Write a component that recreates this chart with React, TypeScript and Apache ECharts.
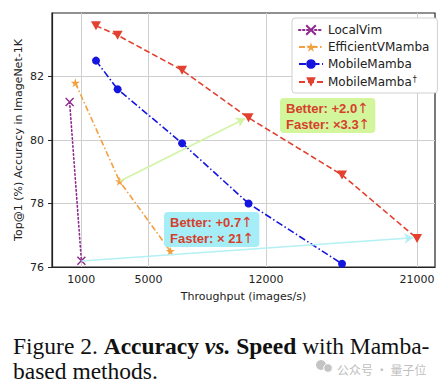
import React, { useEffect, useRef } from "react";
import * as echarts from "echarts";

const seriesNames = ["LocalVim", "EfficientVMamba", "MobileMamba", "MobileMamba†"];
const localVim: [number, number][] = [[300, 81.2], [1000, 76.2]];
const efficientVMamba: [number, number][] = [[640, 81.8], [3280, 78.7], [6300, 76.5]];
const mobileMamba: [number, number][] = [[1870, 82.5], [3160, 81.6], [7000, 79.9], [10960, 78.0], [16530, 76.1]];
const mobileMambaDagger: [number, number][] = [[1870, 83.6], [3160, 83.3], [7000, 82.2], [10960, 80.7], [16530, 78.9], [21000, 76.9]];
const xTicks = [1000, 5000, 12000, 21000];
const yTicks = [76, 78, 80, 82];
const greenArrow: [number, number][] = [[3280, 78.7], [10760, 80.68]];
const cyanArrow: [number, number][] = [[1000, 76.19], [20780, 76.92]];
const greenNote = [["Better: +2.0"], ["Faster: ×3.3"]];
const cyanNote = [["Better: +0.7"], ["Faster: × 21"]];

const C_PURPLE = "#8d2a8d";
const C_ORANGE = "#f2a040";
const C_BLUE = "#1515e0";
const C_RED = "#e3402f";
const NOTE_RED = "#d5402c";
const SANS = "'DejaVu Sans', sans-serif";
const SERIF = "'Liberation Serif', 'Times New Roman', serif";

const STAR = "path://M50,0L61.8,35.4L100,35.4L69.1,57.3L80.9,92.7L50,70.8L19.1,92.7L30.9,57.3L0,35.4L38.2,35.4Z";
const XMARK = "path://M0,0L10,10M10,0L0,10";
const TRI_DOWN = "path://M0,0L10,0L5,9Z";

const noteRich = {
  t: { fontFamily: "'Liberation Sans', Arial, sans-serif", fontWeight: "bold", fontSize: 13, lineHeight: 16, fill: NOTE_RED },
  a: { fontFamily: SANS, fontWeight: "normal", fontSize: 14, lineHeight: 16, fill: NOTE_RED },
};
const noteText = (lines: string[][]) => lines.map((l) => `{t|${l[0]}}{a|↑}`).join("\n");

const CAP = 23.5;
const CAP_LH = 20;

export default function App() {
  const ref = useRef<HTMLDivElement>(null);
  useEffect(() => {
    if (!ref.current) return;
    const chart = echarts.init(ref.current, undefined, { renderer: "svg" });
    const option: any = {
      animation: false,
      backgroundColor: "#ffffff",
      grid: { left: 52, right: 11, top: 13, bottom: 117, containLabel: false },
      xAxis: {
        type: "value",
        min: -750,
        max: 22070,
        name: "Throughput (images/s)",
        nameLocation: "middle",
        nameGap: 24,
        nameTextStyle: { fontFamily: SANS, fontSize: 11, color: "#222" },
        axisLine: { show: true, onZero: false, lineStyle: { color: "#222", width: 1.2 } },
        axisTick: { show: false, customValues: xTicks },
        axisLabel: {
          customValues: xTicks,
          formatter: (v: number) => String(v),
          fontFamily: SANS,
          fontSize: 11,
          color: "#222",
          margin: 7,
        },
        splitLine: { show: true, lineStyle: { color: "#cfcfcf", width: 1 } },
      },
      yAxis: {
        type: "value",
        min: 76,
        max: 84,
        axisLine: { show: true, onZero: false, lineStyle: { color: "#222", width: 1.2 } },
        axisTick: { show: true, customValues: yTicks, length: 4, lineStyle: { color: "#222" } },
        axisLabel: { customValues: yTicks, formatter: (v: number) => String(v), fontFamily: SANS, fontSize: 11, color: "#222", margin: 8 },
        splitLine: { show: true, lineStyle: { color: "#cfcfcf", width: 1 } },
      },
      legend: {
        orient: "vertical",
        left: 292,
        top: 18,
        padding: [6, 8, 5, 6],
        itemGap: 5,
        itemWidth: 24,
        itemHeight: 12,
        backgroundColor: "#ffffff",
        borderColor: "#d0d0d0",
        borderWidth: 1,
        borderRadius: 3,
        textStyle: {
          fontFamily: SANS,
          fontSize: 12,
          color: "#222",
          rich: { s: { fontSize: 8, verticalAlign: "top", padding: [0, 0, 6, 1], fontFamily: SANS, color: "#222" } },
        },
        formatter: (n: string) => (n === "MobileMamba†" ? "MobileMamba{s|†}" : n),
        data: seriesNames,
      },
      series: [
        {
          name: seriesNames[0],
          type: "line",
          data: localVim,
          symbol: XMARK,
          symbolSize: 8,
          lineStyle: { color: C_PURPLE, width: 1.6, type: [1.5, 2.5], cap: "round" },
          itemStyle: { color: "rgba(0,0,0,0)", borderColor: C_PURPLE, borderWidth: 1.4 },
          z: 3,
          markLine: {
            silent: true,
            symbol: ["none", "arrow"],
            symbolSize: [8, 9],
            label: { show: false },
            lineStyle: { color: "#b4f0f4", width: 1.6, type: "solid" },
            data: [[{ coord: cyanArrow[0] }, { coord: cyanArrow[1] }]],
          },
        },
        {
          name: seriesNames[1],
          type: "line",
          data: efficientVMamba,
          symbol: STAR,
          symbolSize: 9,
          lineStyle: { color: C_ORANGE, width: 1.6, type: [6, 2.5, 1.5, 2.5] },
          itemStyle: { color: C_ORANGE },
          z: 3,
          markLine: {
            silent: true,
            symbol: ["none", "arrow"],
            symbolSize: [8, 9],
            label: { show: false },
            lineStyle: { color: "#d2f4a4", width: 1.6, type: "solid" },
            data: [[{ coord: greenArrow[0] }, { coord: greenArrow[1] }]],
          },
        },
        {
          name: seriesNames[2],
          type: "line",
          data: mobileMamba,
          symbol: "circle",
          symbolSize: 8,
          lineStyle: { color: C_BLUE, width: 1.6, type: [7, 2.5, 1.5, 2.5] },
          itemStyle: { color: C_BLUE },
          z: 4,
        },
        {
          name: seriesNames[3],
          type: "line",
          data: mobileMambaDagger,
          symbol: TRI_DOWN,
          symbolSize: [10, 9],
          lineStyle: { color: C_RED, width: 1.6, type: [6, 3] },
          itemStyle: { color: C_RED },
          z: 4,
        },
      ],
      graphic: [
        {
          type: "rect",
          z: 0,
          silent: true,
          shape: { x: 52, y: 13, width: 383, height: 254 },
          style: { fill: "none", stroke: "#222", lineWidth: 1.2 },
        },
        {
          type: "text",
          x: 18,
          y: 140,
          rotation: Math.PI / 2,
          style: {
            text: "Top@1 (%) Accuracy in ImageNet-1K",
            fontFamily: SANS,
            fontSize: 11,
            fill: "#222",
            align: "center",
            verticalAlign: "middle",
          },
        },
        {
          type: "text",
          left: 280,
          top: 98,
          z: 10,
          style: {
            text: noteText(greenNote),
            rich: noteRich,
            backgroundColor: "#d3f59c",
            padding: [2, 5, 1, 6],
            borderRadius: 4,
          },
        },
        {
          type: "text",
          left: 164,
          top: 212,
          z: 10,
          style: {
            text: noteText(cyanNote),
            rich: noteRich,
            backgroundColor: "#a6eef7",
            padding: [2, 5, 1, 6],
            borderRadius: 4,
          },
        },
        {
          type: "text",
          left: 13,
          top: 334,
          style: {
            text: "{n|Figure 2. }{b|Accuracy }{bi|vs.}{b| Speed}{n| with Mamba-}",
            rich: {
              n: { fontFamily: SERIF, fontSize: CAP, lineHeight: CAP_LH, fill: "#111" },
              b: { fontFamily: SERIF, fontSize: CAP, lineHeight: CAP_LH, fontWeight: "bold", fill: "#111" },
              bi: { fontFamily: SERIF, fontSize: CAP, lineHeight: CAP_LH, fontWeight: "bold", fontStyle: "italic", fill: "#111" },
            },
          },
        },
        {
          type: "text",
          left: 13,
          top: 359,
          style: { text: "based methods.", fontFamily: SERIF, fontSize: CAP, lineHeight: CAP_LH, fill: "#111" },
        },
        {
          type: "circle",
          silent: true,
          shape: { cx: 321, cy: 365, r: 5 },
          style: { fill: "#c4c4c4" },
        },
        {
          type: "circle",
          silent: true,
          shape: { cx: 328, cy: 368, r: 4.3 },
          style: { fill: "#c4c4c4", stroke: "#fff", lineWidth: 1 },
        },
        {
          type: "text",
          left: 337,
          top: 363,
          style: { text: "公众号 · 量子位", fontFamily: "'Noto Sans CJK SC', sans-serif", fontSize: 12, lineHeight: 12, fill: "#c0c0c0" },
        },
      ],
    };
    chart.setOption(option);
    return () => chart.dispose();
  }, []);
  return (
    <div style={{ position: "fixed", left: 0, top: 0, width: 446, height: 384, background: "#fff" }}>
      <div ref={ref} style={{ width: 446, height: 384 }} />
    </div>
  );
}
